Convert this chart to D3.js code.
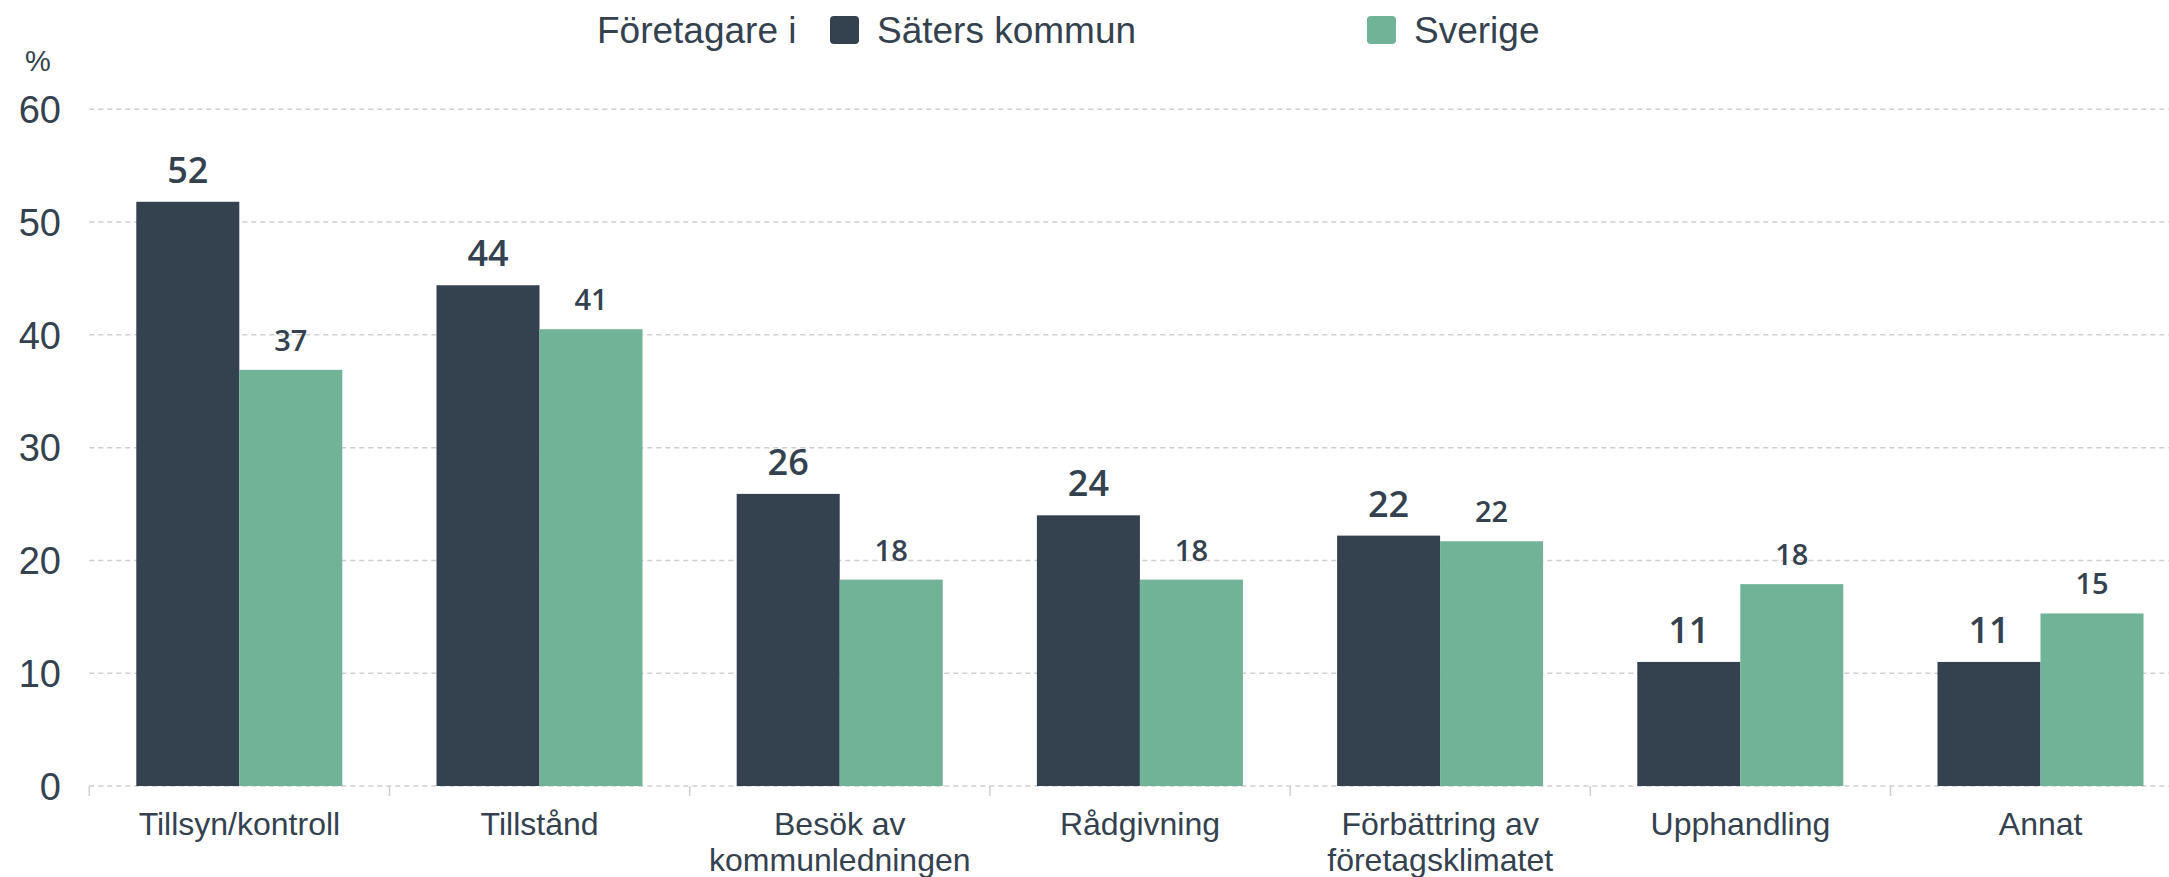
<!DOCTYPE html>
<html>
<head>
<meta charset="utf-8">
<script src="https://cdn.jsdelivr.net/npm/d3@7"></script>
<style>
  html, body { margin: 0; padding: 0; background: #fff; overflow: hidden; }
  svg { display: block; }
</style>
</head>
<body>
<svg id="chart" width="2169" height="877"></svg>
<script>
const categories = [
  ["Tillsyn/kontroll"],
  ["Tillstånd"],
  ["Besök av", "kommunledningen"],
  ["Rådgivning"],
  ["Förbättring av", "företagsklimatet"],
  ["Upphandling"],
  ["Annat"]
];
const seriesNames = ["Säters kommun", "Sverige"];
const saterValues = [51.8, 44.4, 25.9, 24.0, 22.2, 11.0, 11.0];
const sverigeValues = [36.9, 40.5, 18.3, 18.3, 21.7, 17.9, 15.3];
const yTicks = [0, 10, 20, 30, 40, 50, 60];
const legendPrefix = "Företagare i";
const yUnit = "%";

const colors = ["#34414f", "#70b396"];
const textColor = "#34414f";
const axisFont = "'Liberation Sans', Arial, sans-serif";
const labelFont = "'Open Sans', 'Noto Sans', sans-serif";

const svg = d3.select("#chart");
const x0 = d3.scaleBand().domain(d3.range(categories.length)).range([89.3, 89.3 + 7 * 300.2]).padding(0);
const x1 = d3.scaleBand().domain(seriesNames).range([47, 253]).padding(0);
const y = d3.scaleLinear().domain([0, 60]).range([786, 109.3]);

// gridlines
svg.append("g").selectAll("line").data(yTicks).join("line")
  .attr("x1", 89.3).attr("x2", 2169)
  .attr("y1", d => y(d)).attr("y2", d => y(d))
  .attr("stroke", "#cfcfcf").attr("stroke-width", 1.5)
  .attr("stroke-dasharray", "5,4");

// category boundary ticks
svg.append("g").selectAll("line").data(d3.range(categories.length + 1)).join("line")
  .attr("x1", i => 89.3 + i * x0.step()).attr("x2", i => 89.3 + i * x0.step())
  .attr("y1", y(0)).attr("y2", y(0) + 10)
  .attr("stroke", "#cfcfcf").attr("stroke-width", 1.5);

// y tick labels
svg.append("g").selectAll("text").data(yTicks).join("text")
  .attr("x", 61).attr("y", d => y(d)).attr("dy", "0.36em")
  .attr("text-anchor", "end")
  .attr("font-family", axisFont).attr("font-size", 38)
  .attr("fill", textColor).text(d => d);

svg.append("text").attr("x", 38).attr("y", 71)
  .attr("text-anchor", "middle")
  .attr("font-family", axisFont).attr("font-size", 29)
  .attr("fill", textColor).text(yUnit);

// bars
const data = categories.map((c, i) => ({ i, vals: [saterValues[i], sverigeValues[i]] }));
const groups = svg.append("g").selectAll("g").data(data).join("g")
  .attr("transform", d => `translate(${x0(d.i)},0)`);

groups.selectAll("rect").data(d => d.vals.map((v, k) => ({ k, v }))).join("rect")
  .attr("x", d => x1(seriesNames[d.k]))
  .attr("width", x1.bandwidth())
  .attr("y", d => y(d.v))
  .attr("height", d => y(0) - y(d.v))
  .attr("fill", d => colors[d.k]);

groups.selectAll("text.val").data(d => d.vals.map((v, k) => ({ k, v }))).join("text")
  .attr("class", "val")
  .attr("x", d => x1(seriesNames[d.k]) + x1.bandwidth() / 2)
  .attr("y", d => y(d.v) - 19)
  .attr("text-anchor", "middle")
  .attr("font-family", labelFont)
  .attr("font-weight", 600)
  .attr("font-size", d => d.k === 0 ? 36 : 29)
  .attr("fill", textColor)
  .text(d => Math.round(d.v));

// x labels
const xl = svg.append("g").selectAll("text").data(categories).join("text")
  .attr("x", (d, i) => x0(i) + x0.bandwidth() / 2)
  .attr("y", 835)
  .attr("text-anchor", "middle")
  .attr("font-family", axisFont).attr("font-size", 32)
  .attr("fill", textColor);
xl.selectAll("tspan").data(d => d).join("tspan")
  .attr("x", function() { return d3.select(this.parentNode).attr("x"); })
  .attr("dy", (d, j) => j === 0 ? 0 : 36)
  .text(d => d);

// legend
const lg = svg.append("g");
lg.append("text").attr("x", 597).attr("y", 30).attr("dy", "0.36em")
  .attr("font-family", axisFont).attr("font-size", 37)
  .attr("fill", textColor).text(legendPrefix);
const legendX = [830, 1367];
seriesNames.forEach((s, k) => {
  lg.append("rect").attr("x", legendX[k]).attr("y", 16).attr("width", 29).attr("height", 28)
    .attr("rx", 4).attr("fill", colors[k]);
  lg.append("text").attr("x", legendX[k] + 47).attr("y", 30).attr("dy", "0.36em")
    .attr("font-family", axisFont).attr("font-size", 37)
    .attr("fill", textColor).text(s);
});
</script>
</body>
</html>
